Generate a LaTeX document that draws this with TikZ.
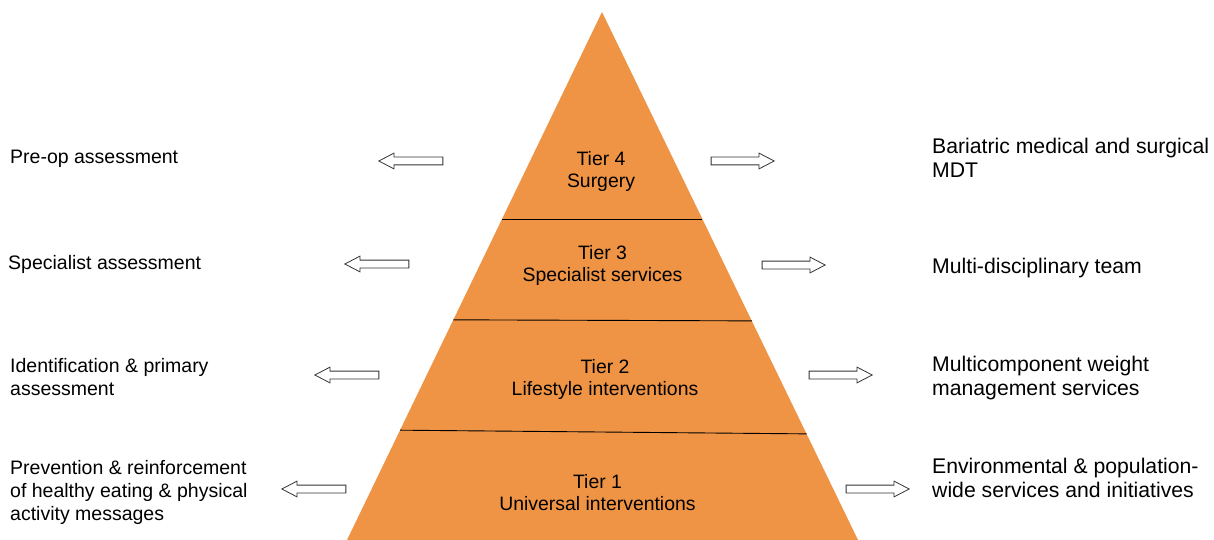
\documentclass[tikz,border=0pt]{standalone}
\usepackage{fontspec}
\setmainfont{Liberation Sans}
\usetikzlibrary{shapes.arrows}
\usetikzlibrary{calc}
\definecolor{tierorange}{RGB}{239,148,69}
\tikzset{blockarrow/.style={single arrow, draw=black!80, fill=white, line width=.8pt,
    inner sep=3.5pt, minimum height=64pt, single arrow head extend=4pt,
    single arrow tip angle=55, anchor=tip}}
\tikzset{lefttext/.style={inner sep=0pt, anchor=west, align=left,
    font=\fontsize{19.5}{23}\selectfont}}
\tikzset{righttext/.style={inner sep=0pt, anchor=west, align=left,
    font=\fontsize{21.2}{24}\selectfont}}
\tikzset{tiertext/.style={inner sep=0pt, align=center,
    font=\fontsize{19.4}{22}\selectfont}}

\begin{document}
\begin{tikzpicture}[x=1pt,y=-1pt]
        \useasboundingbox (0,0) rectangle (1214,540);

        % pyramid
        \coordinate (apex) at (602,12);
        \coordinate (bl) at (347,540);
        \coordinate (br) at (858,540);
        \fill[tierorange] (apex) -- (bl) -- (br) -- cycle;
        \draw[line width=.9pt] ($(apex)!0.392!(bl)$) -- ($(apex)!0.392!(br)$);
        \draw[line width=.9pt] ($(apex)!0.583!(bl)$) -- ($(apex)!0.585!(br)$);
        \draw[line width=.9pt] ($(apex)!0.792!(bl)$) -- ($(apex)!0.799!(br)$);

        \node[tiertext] (t4) at (601,171) {Tier 4\\Surgery};
        \node[tiertext] (t3) at (602.5,265) {Tier 3\\Specialist services};
        \node[tiertext] (t2) at (605,379.5) {Tier 2\\Lifestyle interventions};
        \node[tiertext] (t1) at (597.5,493) {Tier 1\\Universal interventions};

        % arrows out to the left
        \node[blockarrow, shape border rotate=180] (l4) at (378,161) {};
        \node[blockarrow, shape border rotate=180] (l3) at (344,264) {};
        \node[blockarrow, shape border rotate=180] (l2) at (314,375) {};
        \node[blockarrow, shape border rotate=180] (l1) at (281,489) {};

        % arrows out to the right
        \node[blockarrow, minimum height=63pt] (r4) at (775,161) {};
        \node[blockarrow, minimum height=63pt] (r3) at (826,265) {};
        \node[blockarrow, minimum height=63pt] (r2) at (873,375) {};
        \node[blockarrow, minimum height=63pt] (r1) at (910,489) {};

        \node[lefttext] (a4) at (10,159) {Pre-op assessment};
        \node[lefttext] (a3) at (8,264) {Specialist assessment};
        \node[lefttext] (a2) at (10,377) {Identification \& primary\\assessment};
        \node[lefttext] (a1) at (10,492) {Prevention \& reinforcement\\of healthy eating \& physical\\activity messages};

        \node[righttext] (s4) at (932,158) {Bariatric medical and surgical\\MDT};
        \node[righttext] (s3) at (932,268) {Multi-disciplinary team};
        \node[righttext] (s2) at (932,378.5) {Multicomponent weight\\management services};
        \node[righttext] (s1) at (932,478) {Environmental \& population-\\wide services and initiatives};
\end{tikzpicture}
\end{document}
